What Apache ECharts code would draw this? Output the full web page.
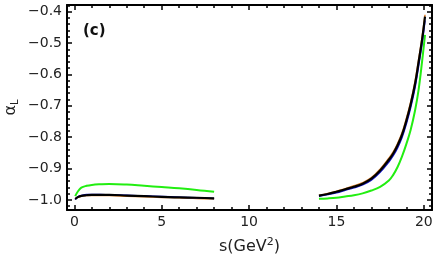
<!DOCTYPE html>
<html>
<head>
<meta charset="utf-8">
<script src="https://cdn.jsdelivr.net/npm/echarts@6/dist/echarts.min.js"></script>
<style>html,body{margin:0;padding:0;background:#fff}#c{width:436px;height:262px}</style>
</head>
<body>
<div id="c"></div>
<script>
// ---- data ----
var sLow = [0.05, 0.2, 0.4, 0.7, 1.0, 1.5, 2.0, 3.0, 4.0, 5.0, 6.0, 7.0, 8.0];
var greenLow  = [-0.988, -0.973, -0.961, -0.955, -0.952, -0.950, -0.949, -0.951, -0.955, -0.959, -0.963, -0.968, -0.974];
var blackLow  = [-0.997, -0.991, -0.987, -0.985, -0.984, -0.984, -0.984, -0.986, -0.988, -0.990, -0.992, -0.993, -0.995];
var blueLow   = [-0.999, -0.990, -0.986, -0.983, -0.983, -0.983, -0.984, -0.985, -0.987, -0.989, -0.991, -0.993, -0.995];
var orangeLow = [-0.997, -0.992, -0.988, -0.986, -0.986, -0.986, -0.986, -0.988, -0.990, -0.992, -0.993, -0.995, -0.996];

var sHigh = [14.0, 14.5, 15.0, 15.5, 16.0, 16.5, 17.0, 17.5, 18.0, 18.25, 18.5, 18.75, 19.0, 19.25, 19.5, 19.7, 19.9, 20.07];
var greenHigh  = [-0.996, -0.995, -0.993, -0.989, -0.985, -0.979, -0.970, -0.958, -0.938, -0.920, -0.895, -0.862, -0.822, -0.776, -0.715, -0.650, -0.560, -0.474];
var blackHigh  = [-0.986, -0.981, -0.974, -0.966, -0.958, -0.948, -0.932, -0.906, -0.872, -0.852, -0.826, -0.793, -0.748, -0.695, -0.630, -0.562, -0.490, -0.416];
var blueHigh   = [-0.988, -0.983, -0.977, -0.969, -0.961, -0.952, -0.937, -0.912, -0.879, -0.859, -0.834, -0.802, -0.758, -0.706, -0.642, -0.575, -0.503, -0.428];
var orangeHigh = [-0.985, -0.979, -0.972, -0.964, -0.955, -0.945, -0.929, -0.902, -0.867, -0.847, -0.820, -0.787, -0.741, -0.688, -0.622, -0.554, -0.482, -0.410];

var xMajor = [0, 5, 10, 15, 20];
var yMajor = [-1.0, -0.9, -0.8, -0.7, -0.6, -0.5, -0.4];

// ---- helpers ----
function pairs(xs, ys) { return xs.map(function (x, i) { return [x, ys[i]]; }); }
var xMinor = [];
for (var i = 0; i <= 20; i++) if (i % 5 !== 0) xMinor.push(i);
var yMinor = [];
for (var k = -51; k <= -19; k++) if (k % 5 !== 0) yMinor.push(k / 50);

var XMIN = -0.42, XMAX = 20.47, YMIN = -1.032, YMAX = -0.379;
var FONT = 'DejaVu Sans';

function xAx(pos, ticks, len, showLine, showLabel) {
  return {
    type: 'value', position: pos, min: XMIN, max: XMAX,
    axisLine: { show: showLine, onZero: false, lineStyle: { color: '#000', width: 2 } },
    axisTick: { show: true, inside: true, length: len, customValues: ticks, lineStyle: { color: '#000', width: 1.5 } },
    axisLabel: { show: showLabel, customValues: ticks, fontFamily: FONT, fontSize: 14, color: '#222', margin: 5 },
    splitLine: { show: false }
  };
}
function yAx(pos, ticks, len, showLine, showLabel) {
  return {
    type: 'value', position: pos, min: YMIN, max: YMAX,
    axisLine: { show: showLine, onZero: false, lineStyle: { color: '#000', width: 2 } },
    axisTick: { show: true, inside: true, length: len, customValues: ticks, lineStyle: { color: '#000', width: 1.5 } },
    axisLabel: { show: showLabel, customValues: ticks, fontFamily: FONT, fontSize: 14, color: '#222', margin: 5,
      formatter: function (v) { return v.toFixed(1).replace('-', '\u2212'); } },
    splitLine: { show: false }
  };
}
function line(data, color, width, z) {
  return { type: 'line', data: data, smooth: 0.4, showSymbol: false, symbol: 'none', z: z,
    lineStyle: { color: color, width: width }, xAxisIndex: 0, yAxisIndex: 0, animation: false };
}

var yMain = yAx('left', yMajor, 5, true, true);
yMain.name = '{a|\u03B1}{b|L}';
yMain.nameLocation = 'middle';
yMain.nameRotate = 90;
yMain.nameGap = 47;
yMain.nameMoveOverlap = false;
yMain.nameTextStyle = { rich: { a: { fontFamily: FONT, fontSize: 16, color: '#222' },
  b: { fontFamily: FONT, fontSize: 10, color: '#222', padding: [9, 0, 0, 0] } } };

var xMain = xAx('bottom', xMajor, 5, true, true);
xMain.name = 's(GeV{s|2})';
xMain.nameLocation = 'middle';
xMain.nameGap = 27;
xMain.nameTextStyle = { fontFamily: FONT, fontSize: 16, color: '#222',
  rich: { s: { fontFamily: FONT, fontSize: 11, color: '#222', padding: [0, 0, 8, 0] } } };

var chart = echarts.init(document.getElementById('c'), null, { renderer: 'canvas' });
chart.setOption({
  animation: false,
  grid: { left: 67, top: 5, right: 4, bottom: 52, containLabel: false, outerBoundsMode: 'none' },
  xAxis: [
    xMain,
    xAx('bottom', xMinor, 3, false, false),
    xAx('top', xMajor, 5, true, false),
    xAx('top', xMinor, 3, false, false)
  ],
  yAxis: [
    yMain,
    yAx('left', yMinor, 3, false, false),
    yAx('right', yMajor, 5, true, false),
    yAx('right', yMinor, 3, false, false)
  ],
  series: [
    line(pairs(sLow, greenLow), '#22ee11', 2, 2),
    line(pairs(sLow, orangeLow), '#e0802a', 1.5, 3),
    line(pairs(sLow, blueLow), '#1010cc', 1.5, 4),
    line(pairs(sLow, blackLow), '#000000', 2.2, 5),
    line(pairs(sHigh, greenHigh), '#22ee11', 2, 2),
    line(pairs(sHigh, orangeHigh), '#e0802a', 1.5, 3),
    line(pairs(sHigh, blueHigh), '#1010cc', 1.5, 4),
    line(pairs(sHigh, blackHigh), '#000000', 2.2, 5)
  ],
  graphic: [
    { type: 'text', left: 83, top: 24, style: { text: '(c)', font: 'bold 15px "DejaVu Sans"', fill: '#111' } }
  ]
});
</script>
</body>
</html>
